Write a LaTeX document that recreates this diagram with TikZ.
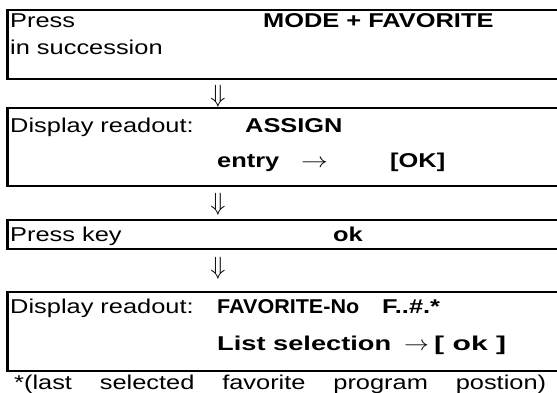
\documentclass[tikz,border=0pt]{standalone}
\usepackage{fontspec}
\setmainfont[FakeStretch=1.27]{Liberation Sans}
\usepackage{amsmath, amssymb}
\usepackage{xcolor}
\usepackage{tikz}

\newcommand{\fitw}[2]{\resizebox{#1}{\height}{#2}}

\tikzset{
  txt/.style={anchor=base west, inner sep=0pt, font=\fontsize{20}{24}\selectfont},
  btxt/.style={anchor=base west, inner sep=0pt, font=\fontsize{20}{24}\selectfont\bfseries},
  dn/.style={inner sep=0pt, font=\fontsize{27}{30}\selectfont},
  frame/.style={line width=2.2pt}
}

\begin{document}
\begin{tikzpicture}[x=1pt,y=-1pt]
    \useasboundingbox (0,0) rectangle (557,392);
    % boxes, open on the right
    \draw[frame] (557,10) -- (7.5,10) -- (7.5,79) -- (557,79);
    \draw[frame] (557,108) -- (7.5,108) -- (7.5,186) -- (557,186);
    \draw[frame] (557,220) -- (7.5,220) -- (7.5,249) -- (557,249);
    \draw[frame] (557,292) -- (7.5,292) -- (7.5,371) -- (557,371);
    % step 1
      \node[txt] (p1) at (10,27) {Press};
      \node[btxt] (m1) at (263,27) {MODE + FAVORITE};
      \node[txt] (s1) at (10,54) {in succession};
      \node[dn] (d1) at (218,96) {$\Downarrow$};
    % step 2
      \node[txt] (r2) at (10,132) {Display readout:};
      \node[btxt] (a2) at (245,132) {ASSIGN};
      \node[btxt] (e2) at (217,167) {entry};
      \node[txt] (t2) at (301,167) {\scalebox{1.3}[1]{$\rightarrow$}};
      \node[btxt] (k2) at (390,167) {[OK]};
      \node[dn] (d2) at (218,204) {$\Downarrow$};
    % step 3
      \node[txt] (p3) at (10,241) {Press key};
      \node[btxt] (o3) at (333,241) {ok};
      \node[dn] (d3) at (218,268) {$\Downarrow$};
    % step 4
      \node[txt] (r4) at (10,313) {Display readout:};
      \node[btxt] (f4) at (217,313) {\fitw{142pt}{FAVORITE-No}};
      \node[btxt] (n4) at (382,313) {F..\#.*};
      \node[btxt] (l4) at (217,350) {\fitw{174pt}{List selection}};
      \node[txt] (t4) at (404,350) {\scalebox{1.2}[1]{$\rightarrow$}};
      \node[btxt] (k4) at (434,350) {\fitw{72pt}{[ ok ]}};
    % footnote
      \node[txt] (fn) at (14,389) {\makebox[532pt][s]{*(last selected favorite program postion)}};
\end{tikzpicture}
\end{document}
